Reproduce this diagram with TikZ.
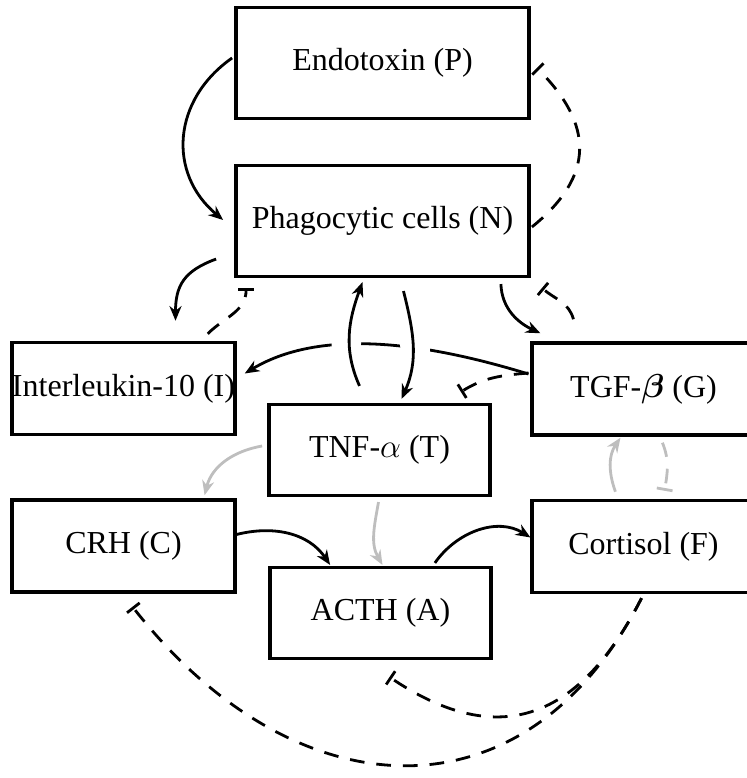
\documentclass[tikz,border=0pt]{standalone}
\usepackage{amsmath,amssymb}
\usepackage{fontspec}
\setmainfont{Liberation Serif}
\usetikzlibrary{arrows.meta,calc}
\definecolor{lightline}{RGB}{190,190,190}

\begin{document}
\begin{tikzpicture}[x=0.75pt, y=0.75pt, every node/.style={font=\fontsize{24}{28}\selectfont},
	box/.style={draw, line width=2.6pt, inner sep=0pt, minimum width=167pt, minimum height=69pt},
	bigbox/.style={box, minimum width=220pt, minimum height=83pt},
	midbox/.style={box, minimum width=166pt, minimum height=68pt},
	act/.style={-{Stealth[length=11pt, width=9pt]}, line width=2.1pt},
	inh/.style={-{Bar[width=12pt]}, line width=2.1pt, dash pattern=on 11pt off 9pt},
	faint/.style={draw=lightline},
	gap/.style={preaction={draw=white, -, line width=22pt, shorten <=20pt, shorten >=20pt}}]
	\useasboundingbox (0,0) rectangle (746,778);
	\node[bigbox] (P) at (382.5,715) {Endotoxin (P)};
	\node[bigbox] (N) at (382.5,557) {Phagocytic cells (N)};
	\node[box] (I) at (123.5,389.5) {Interleukin-10 (I)};
	\node[box] (G) at (643.5,389) {TGF-$\boldsymbol{\beta}$ (G)};
	\node[midbox] (T) at (379.5,328) {TNF-$\alpha$ (T)};
	\node[box] (C) at (123.5,232) {CRH (C)};
	\node[box] (F) at (643.5,231.5) {Cortisol (F)};
	\node[midbox] (A) at (380.5,165) {ACTH (A)};

	\draw[act] ($(P.west)+(-2,5)$) to[out=215, in=140, looseness=1.15] ($(N.west)+(-11,1)$);
	\draw[inh] ($(N.east)+(1,-6)$) to[out=39, in=-45, looseness=1.3] ($(P.east)+(6,-5)$);
	\draw[act] ($(N.south west)+(-18,19)$) to[out=200, in=90, looseness=1.2] ($(I.north)+(52,20)$);
	\draw[inh] ($(I.north east)+(-29,7)$) to[out=45, in=-90] ($(N.south west)+(12,-10)$);
	\draw[act] ($(G.west)+(-2,15)$) to[out=163, in=31, looseness=0.85] ($(I.east)+(8,15)$);
	\draw[act, gap] ($(T.north)+(-20,17)$) to[out=114, in=-110] ($(N.south)+(-20,-4)$);
	\draw[act, gap] ($(N.south)+(21,-13)$) to[out=-76, in=66] ($(T.north)+(22,4)$);
	\draw[inh] ($(G.west)+(-2,16)$) to[out=185, in=32] ($(T.north east)+(-31,11)$);
	\draw[act] ($(N.south east)+(-30,-6)$) to[out=-88, in=155] ($(G.north west)+(10,8)$);
	\draw[inh] ($(G.north west)+(43,22)$) to[out=105, in=-40] ($(N.south east)+(11,-10)$);

	\draw[act, faint] ($(T.west)+(-5,4)$) to[out=190, in=76] ($(C.north east)+(-32,3)$);
	\draw[act, faint] ($(T.south)+(-1,-5)$) to[out=-100, in=120] ($(A.north)+(2,1)$);
	\draw[act, faint] ($(F.north west)+(85,7)$) to[out=110, in=236] ($(G.south west)+(90,-1)$);
	\draw[inh, faint] ($(G.south west)+(132,-6)$) to[out=-68, in=80] ($(F.north west)+(134,8)$);
	\draw[act] ($(C.east)+(-2,11)$) to[out=15, in=124] ($(A.north west)+(62,1)$);
	\draw[act] ($(A.north east)+(-58,3)$) to[out=55, in=148] ($(F.west)+(0,9)$);

	\draw[inh] ($(F.south)+(-2,-4)$) to[out=243, in=-52, looseness=1.3] ($(C.south)+(9,-13)$);
	\draw[inh] ($(F.south)+(-2,-4)$) to[out=243, in=-34, looseness=1.3] ($(A.south)+(9,-17)$);
\end{tikzpicture}
\end{document}
